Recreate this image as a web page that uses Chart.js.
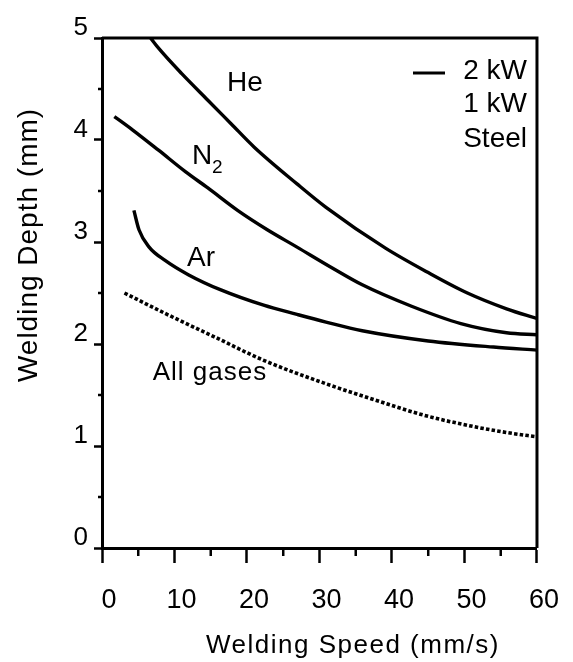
<!DOCTYPE html>
<html lang="en">
<head>
    <meta charset="UTF-8">
    <title>Welding Depth vs Welding Speed</title>
    <style>
        html, body { margin: 0; padding: 0; background: #fff; }
        #wrap { width: 573px; height: 662px; }
    </style>
</head>
<body>
    <div id="wrap"><canvas id="depthChart" width="573" height="662"></canvas></div>

    <script src="https://cdn.jsdelivr.net/npm/chart.js"></script>
    <script>
        // valores (velocidad en mm/s, profundidad en mm)
        const heSpeed = [6.7, 7.8, 11, 14.6, 17.8, 21, 26.9, 30.9, 39.1, 45, 50.4, 55.8, 60];
        const heDepth = [5.0, 4.9, 4.65, 4.39, 4.16, 3.93, 3.57, 3.34, 2.94, 2.70, 2.50, 2.345, 2.25];

        const n2Speed = [1.7, 4.2, 7.8, 11.5, 14.6, 18.7, 22.8, 26.9, 31.4, 35.9, 42.7, 49.5, 55.8, 60];
        const n2Depth = [4.23, 4.10, 3.90, 3.69, 3.53, 3.31, 3.12, 2.95, 2.76, 2.58, 2.37, 2.20, 2.11, 2.09];

        const arSpeed = [4.4, 5.1, 6.5, 8.7, 11.9, 16.4, 22.3, 26.9, 30.9, 35.9, 45, 54, 60];
        const arDepth = [3.31, 3.12, 2.95, 2.82, 2.68, 2.53, 2.38, 2.29, 2.215, 2.13, 2.03, 1.97, 1.94];

        const allSpeed = [3.1, 8.7, 15.5, 22.3, 30.9, 37.7, 44.5, 51.3, 56, 60];
        const allDepth = [2.50, 2.30, 2.07, 1.84, 1.61, 1.45, 1.30, 1.19, 1.13, 1.09];

        const xTicks = [0, 10, 20, 30, 40, 50, 60];
        const yTicks = [0, 1, 2, 3, 4, 5];

        const FONT = "'Liberation Sans', Arial, sans-serif";

        function pts(xs, ys) {
            return xs.map((x, i) => ({ x: x, y: ys[i] }));
        }

        function curve(label, xs, ys, dotted) {
            return {
                label: label,
                data: pts(xs, ys),
                borderColor: '#000',
                borderWidth: dotted ? 3.6 : 3.4,
                borderDash: dotted ? [3.5, 2.2] : [],
                borderCapStyle: 'butt',
                pointRadius: 0,
                fill: false,
                cubicInterpolationMode: 'monotone'
            };
        }

        // marco, ticks menores y textos
        const extras = {
            id: 'extras',
            afterDraw(chart) {
                const ctx = chart.ctx;
                const a = chart.chartArea;
                const xs = chart.scales.x, ys = chart.scales.y;
                ctx.save();
                ctx.strokeStyle = '#000';
                ctx.fillStyle = '#000';

                // borde superior y derecho
                ctx.lineWidth = 3;
                ctx.beginPath();
                ctx.moveTo(a.left, a.top);
                ctx.lineTo(a.right, a.top);
                ctx.lineTo(a.right, a.bottom);
                ctx.stroke();

                // ticks menores
                ctx.lineWidth = 2.5;
                ctx.beginPath();
                for (let v = 5; v < 60; v += 10) {
                    const px = xs.getPixelForValue(v);
                    ctx.moveTo(px, a.bottom);
                    ctx.lineTo(px, a.bottom + 8);
                }
                for (let v = 0.5; v < 5; v += 1) {
                    const py = ys.getPixelForValue(v);
                    ctx.moveTo(a.left, py);
                    ctx.lineTo(a.left - 4, py);
                }
                ctx.stroke();

                // etiquetas de curvas
                ctx.textBaseline = 'middle';
                ctx.textAlign = 'center';
                ctx.font = '28px ' + FONT;
                ctx.fillText('He', 245, 83);
                ctx.fillText('Ar', 201, 258);
                ctx.textAlign = 'left';
                ctx.fillText('N', 192, 156);
                ctx.font = '19px ' + FONT;
                ctx.fillText('2', 212, 168);
                ctx.textAlign = 'center';
                ctx.font = '26px ' + FONT;
                ctx.letterSpacing = '1px';
                ctx.fillText('All gases', 210, 373);
                ctx.letterSpacing = '0px';

                // leyenda
                ctx.font = '28px ' + FONT;
                ctx.textAlign = 'right';
                ctx.fillText('2 kW', 527, 71);
                ctx.fillText('1 kW', 527, 104);
                ctx.fillText('Steel', 527, 139);
                ctx.lineWidth = 3;
                ctx.beginPath();
                ctx.moveTo(413, 73);
                ctx.lineTo(445, 73);
                ctx.stroke();

                // titulos de ejes
                ctx.textAlign = 'center';
                ctx.font = '26px ' + FONT;
                ctx.letterSpacing = '1.5px';
                ctx.fillText('Welding Speed (mm/s)', 353, 646);
                ctx.translate(29, 245);
                ctx.rotate(-Math.PI / 2);
                ctx.font = '28px ' + FONT;
                ctx.letterSpacing = '1px';
                ctx.fillText('Welding Depth (mm)', 0, 0);
                ctx.restore();
            }
        };

        const ctx = document.getElementById('depthChart').getContext('2d');
        new Chart(ctx, {
            type: 'line',
            data: {
                datasets: [
                    curve('He', heSpeed, heDepth, false),
                    curve('N2', n2Speed, n2Depth, false),
                    curve('Ar', arSpeed, arDepth, false),
                    curve('All gases', allSpeed, allDepth, true)
                ]
            },
            options: {
                responsive: false,
                animation: false,
                layout: { padding: { top: 38, right: 29, left: 0, bottom: 0 } },
                plugins: {
                    legend: { display: false },
                    tooltip: { enabled: false }
                },
                scales: {
                    x: {
                        type: 'linear',
                        min: 0,
                        max: 60,
                        afterFit: s => { s.height = 114; },
                        afterBuildTicks: s => { s.ticks = xTicks.map(v => ({ value: v })); },
                        border: { color: '#000', width: 3 },
                        grid: { drawOnChartArea: false, color: '#000', tickLength: 15, tickWidth: 2.5 },
                        ticks: { color: '#000', font: { family: FONT, size: 27 }, padding: 21, labelOffset: 7, maxRotation: 0 }
                    },
                    y: {
                        type: 'linear',
                        min: 0,
                        max: 5,
                        afterFit: s => { s.width = 102; },
                        afterBuildTicks: s => { s.ticks = yTicks.map(v => ({ value: v })); },
                        border: { color: '#000', width: 3 },
                        grid: { drawOnChartArea: false, color: '#000', tickLength: 8, tickWidth: 2.5 },
                        ticks: { color: '#000', font: { family: FONT, size: 26 }, padding: 6, labelOffset: -10 }
                    }
                }
            },
            plugins: [extras]
        });
    </script>
</body>
</html>
